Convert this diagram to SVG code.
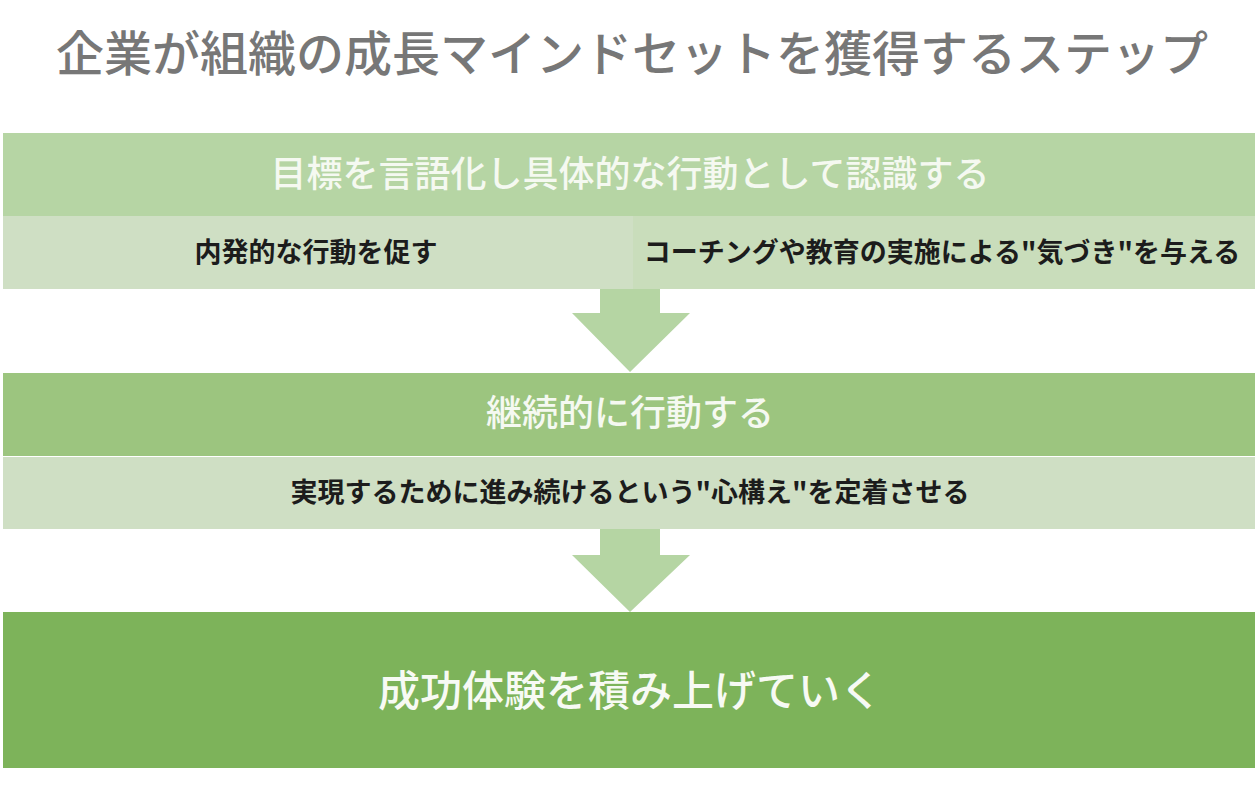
<svg xmlns="http://www.w3.org/2000/svg" width="1260" height="801" viewBox="0 0 1260 801">
<style>
text{font-family:"Noto Sans CJK JP","Noto Sans CJK SC",sans-serif;text-anchor:middle}
.title{font-size:48px;fill:#777777;font-weight:500}
.head{font-size:36px;fill:#f5f9f1;font-weight:500}
.sub{font-size:27px;fill:#1c1c1c;font-weight:700}
.big{font-size:42px;fill:#f7faf4;font-weight:500}
.arrow{fill:#b5d5a3}
</style>
<rect width="1260" height="801" fill="#ffffff"/>
<text class="title" x="632" y="71">企業が組織の成長マインドセットを獲得するステップ</text>
<g id="step1">
<rect x="3" y="133" width="1252" height="83" fill="#b6d5a4"/>
<text class="head" x="630" y="187">目標を言語化し具体的な行動として認識する</text>
</g>
<g id="sub1a">
<rect x="3" y="216" width="630" height="73" fill="#cfdfc4"/>
<text class="sub" x="316" y="262">内発的な行動を促す</text>
</g>
<g id="sub1b">
<rect x="633" y="216" width="622" height="73" fill="#c9ddbb"/>
<text class="sub" x="942" y="262">コーチングや教育の実施による"気づき"を与える</text>
</g>
<g id="step2">
<rect x="3" y="373" width="1252" height="83" fill="#9cc57f"/>
<text class="head" x="630" y="426">継続的に行動する</text>
</g>
<g id="sub2">
<rect x="3" y="457" width="1252" height="72" fill="#cfdfc4"/>
<text class="sub" x="630" y="502">実現するために進み続けるという"心構え"を定着させる</text>
</g>
<g id="step3">
<rect x="3" y="612" width="1252" height="156" fill="#7db35a"/>
<text class="big" x="630" y="706">成功体験を積み上げていく</text>
</g>
<g id="connectors">
<polygon class="arrow" points="600,289 660,289 660,313 690,313 630,372 572,313 600,313"/>
<polygon class="arrow" points="600,529 660,529 660,555 690,555 630,612 572,555 600,555"/>
</g>
</svg>
